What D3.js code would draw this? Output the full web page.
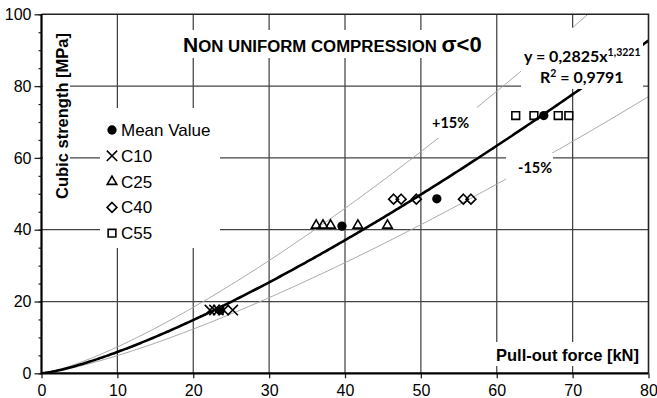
<!DOCTYPE html>
<html>
<head>
<meta charset="utf-8">
<script src="https://cdn.jsdelivr.net/npm/d3@7"></script>
<style>
  html, body { margin: 0; padding: 0; background: #fff; }
  svg { display: block; }
  text { font-family: "Liberation Sans", Arial, sans-serif; fill: #000; }
  .calib { font-family: Lato, "Open Sans", sans-serif; font-weight: 700; }
</style>
</head>
<body>
<svg id="chart" width="657" height="398"></svg>
<script>
// Pull-out force [kN] vs cubic strength [MPa], grouped by concrete class
const meanForce    = [23.6, 39.6, 52.1, 66.2];
const meanStrength = [17.6, 41.0, 48.6, 71.8];

const c10Force    = [22.2, 22.8, 23.3, 24.0, 25.2];
const c10Strength = [17.6, 17.6, 17.6, 17.6, 17.6];

const c25Force    = [36.2, 37.1, 38.1, 41.7, 45.6];
const c25Strength = [41.2, 41.2, 41.2, 41.2, 41.2];

const c40Force    = [46.4, 47.4, 49.4, 55.6, 56.6];
const c40Strength = [48.5, 48.5, 48.5, 48.5, 48.5];

const c55Force    = [62.5, 64.9, 68.1, 69.5];
const c55Strength = [71.8, 71.8, 71.8, 71.8];

// Power trendline y = a·x^b and the ±15 % force band around it
const fitA = 0.2825;
const fitB = 1.3221;
const fitR2 = "0,9791";
const bandPct = 15;

const xTicks = [0, 10, 20, 30, 40, 50, 60, 70, 80];
const yTicks = [0, 20, 40, 60, 80, 100];

const svg = d3.select("#chart");
const x = d3.scaleLinear().domain([0, 80]).range([41.5, 648.5]);
const y = d3.scaleLinear().domain([0, 100]).range([373.3, 14.3]);

svg.append("defs").append("clipPath").attr("id", "plotClip")
  .append("rect")
  .attr("x", x(0)).attr("y", y(100))
  .attr("width", x(80) - x(0)).attr("height", y(0) - y(100));

// Grid
const grid = svg.append("g").attr("stroke", "#444").attr("stroke-width", 1.25);
grid.selectAll("line.v").data(xTicks.filter(d => d > 0 && d < 80)).join("line")
  .attr("x1", d => x(d)).attr("x2", d => x(d))
  .attr("y1", y(100)).attr("y2", y(0));
grid.selectAll("line.h").data(yTicks.filter(d => d > 0 && d < 100)).join("line")
  .attr("x1", x(0)).attr("x2", x(80))
  .attr("y1", d => y(d)).attr("y2", d => y(d));

// Curves
const fit = v => fitA * Math.pow(v, fitB);
const xs = d3.range(0, 80.001, 0.25);
const line = d3.line().x(d => x(d[0])).y(d => y(d[1]));
const curves = svg.append("g").attr("clip-path", "url(#plotClip)").attr("fill", "none");
curves.append("path")
  .attr("d", line(xs.map(v => [v, fit(v / (1 - bandPct / 100))])))
  .attr("stroke", "#a6a6a6").attr("stroke-width", 1);
curves.append("path")
  .attr("d", line(xs.map(v => [v, fit(v / (1 + bandPct / 100))])))
  .attr("stroke", "#a6a6a6").attr("stroke-width", 1);
curves.append("path")
  .attr("d", line(xs.map(v => [v, fit(v)])))
  .attr("stroke", "#000").attr("stroke-width", 2.6);

// White backgrounds behind the annotation labels
const boxes = [
  [43, 28, 27, 182],     // y axis title
  [178, 30, 314, 28],    // chart title
  [100, 108, 120, 140],  // legend
  [521, 28, 122, 61],    // trendline equation
  [427, 107, 50, 31],    // +15 %
  [506, 153, 47, 28],    // -15 %
  [485, 342, 158, 24]    // x axis title
];
svg.append("g").selectAll("rect").data(boxes).join("rect")
  .attr("x", d => d[0]).attr("y", d => d[1])
  .attr("width", d => d[2]).attr("height", d => d[3])
  .attr("fill", "#fff");

// Axes
const xAxis = d3.axisBottom(x).tickValues(xTicks).tickSize(5).tickSizeOuter(0).tickPadding(6);
const gx = svg.append("g").attr("transform", `translate(0,${y(0)})`).call(xAxis);
gx.select(".domain").remove();
gx.selectAll("text").attr("font-size", 16).attr("fill", "#111");
gx.selectAll("line").attr("stroke", "#222").attr("stroke-width", 1.3);

const yMinor = d3.axisLeft(y).tickValues(d3.range(0, 100.1, 5)).tickSize(3).tickFormat("");
const gym = svg.append("g").attr("transform", `translate(${x(0)},0)`).call(yMinor);
gym.select(".domain").remove();
gym.selectAll("line").attr("stroke", "#222").attr("stroke-width", 1.2);

const yAxis = d3.axisLeft(y).tickValues(yTicks).tickSize(7).tickSizeOuter(0).tickPadding(3);
const gy = svg.append("g").attr("transform", `translate(${x(0)},0)`).call(yAxis);
gy.select(".domain").remove();
gy.selectAll("text").attr("font-size", 16).attr("fill", "#111");
gy.selectAll("line").attr("stroke", "#222").attr("stroke-width", 1.3);

// Frame
svg.append("path")
  .attr("d", `M${x(0)},${y(100)}H${x(80)}V${y(0)}`)
  .attr("fill", "none").attr("stroke", "#222").attr("stroke-width", 1.6);
svg.append("path")
  .attr("d", `M${x(0)},${y(100)}V${y(0)}H${x(80)}`)
  .attr("fill", "none").attr("stroke", "#000").attr("stroke-width", 2.2);

// Marker shapes
const sym = {
  mean: d3.symbol().type(d3.symbolCircle).size(68),
  c10:  d3.symbol().type(d3.symbolX).size(72),
  c25:  d3.symbol().type(d3.symbolTriangle2).size(66),
  c40:  d3.symbol().type(d3.symbolDiamond2).size(62),
  c55:  d3.symbol().type(d3.symbolSquare2).size(76)
};
function marker(g, key) {
  const p = g.append("path").attr("d", sym[key]());
  if (key === "mean") p.attr("fill", "#000").attr("stroke", "none");
  else p.attr("fill", "none").attr("stroke", "#000").attr("stroke-width", 1.6);
  return p;
}
const seriesList = [
  ["c10", c10Force, c10Strength],
  ["c25", c25Force, c25Strength],
  ["c40", c40Force, c40Strength],
  ["c55", c55Force, c55Strength],
  ["mean", meanForce, meanStrength]
];
const pts = svg.append("g");
seriesList.forEach(([key, fx, fy]) => {
  fx.forEach((f, i) => {
    const g = pts.append("g").attr("transform", `translate(${x(f)},${y(fy[i])})`);
    marker(g, key);
  });
});

// Legend
const legendItems = [
  ["mean", "Mean Value"], ["c10", "C10"], ["c25", "C25"], ["c40", "C40"], ["c55", "C55"]
];
const lg = svg.append("g");
legendItems.forEach(([key, label], i) => {
  const cy = 130 + i * 25.8;
  const g = lg.append("g").attr("transform", `translate(112,${cy})`);
  marker(g, key);
  lg.append("text").attr("x", 121).attr("y", cy + 6).attr("font-size", 17).text(label);
});

// Title
const title = svg.append("text").attr("x", 183).attr("y", 52).attr("font-weight", 700);
title.append("tspan").attr("font-size", 21).text("N");
title.append("tspan").attr("font-size", 16.8).text("ON UNIFORM COMPRESSION ");
title.append("tspan").attr("font-size", 22).text("σ<0");

// Axis titles
svg.append("text")
  .attr("transform", `translate(68,116) rotate(-90)`)
  .attr("text-anchor", "middle").attr("font-weight", 700).attr("font-size", 16.5)
  .text("Cubic strength [MPa]");
svg.append("text")
  .attr("x", 639).attr("y", 361).attr("text-anchor", "end")
  .attr("font-weight", 700).attr("font-size", 16.5)
  .text("Pull-out force [kN]");

// Trendline equation
const eq = svg.append("text").attr("class", "calib").attr("x", 524).attr("y", 62).attr("font-size", 16);
eq.append("tspan").text(`y = ${String(fitA).replace(".", ",")}x`);
eq.append("tspan").attr("font-size", 10.5).attr("dy", -6).text(String(fitB).replace(".", ","));
const r2 = svg.append("text").attr("class", "calib").attr("x", 540).attr("y", 83).attr("font-size", 16);
r2.append("tspan").text("R");
r2.append("tspan").attr("font-size", 10.5).attr("dy", -6).text("2");
r2.append("tspan").attr("dy", 6).text(` = ${fitR2}`);

// Band labels
svg.append("text").attr("class", "calib").attr("x", 432).attr("y", 128).attr("font-size", 14.5).text(`+${bandPct}%`);
svg.append("text").attr("class", "calib").attr("x", 518).attr("y", 173).attr("font-size", 14.5).text(`-${bandPct}%`);
</script>
</body>
</html>
